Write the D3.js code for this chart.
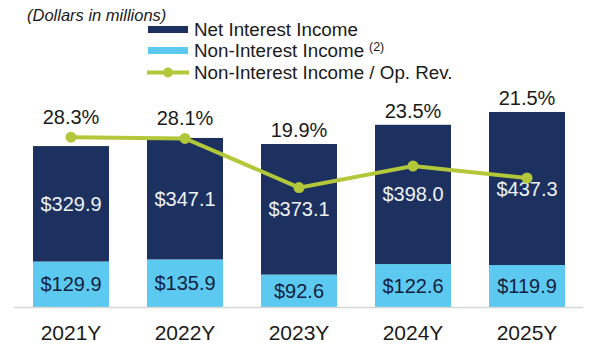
<!DOCTYPE html>
<html>
<head>
<meta charset="utf-8">
<script src="https://cdn.jsdelivr.net/npm/d3@7"></script>
<style>
  html, body { margin: 0; padding: 0; background: #ffffff; }
  svg { display: block; font-family: "Liberation Sans", Arial, sans-serif; }
</style>
</head>
<body>
<svg id="chart" width="589" height="354"></svg>
<script>
// Yearly revenue mix (dollars in millions) and non-interest share of operating revenue
const years = ["2021Y", "2022Y", "2023Y", "2024Y", "2025Y"];
const netInterestIncome = [329.9, 347.1, 373.1, 398.0, 437.3];
const nonInterestIncome = [129.9, 135.9, 92.6, 122.6, 119.9];
const nonInterestShare = [28.3, 28.1, 19.9, 23.5, 21.5];

const colors = { nii: "#1d3160", noni: "#5ccaf0", ratio: "#b3c73a", axis: "#d6d6d6", text: "#1a1a1a" };

const svg = d3.select("#chart");
const baseline = 307;

const x = d3.scaleBand()
  .domain(years)
  .range([14, 584])
  .paddingInner(1 / 3)
  .paddingOuter(1 / 6);

const y = d3.scaleLinear().domain([0, 860]).range([baseline, 6]);
const yPct = d3.scaleLinear().domain([0, 50]).range([baseline, 7]);

const rows = years.map((yr, i) => ({
  year: yr,
  noni: nonInterestIncome[i],
  nii: netInterestIncome[i],
  pct: nonInterestShare[i]
}));

// Stacked bars: non-interest income at the bottom, net interest income on top
const stack = d3.stack().keys(["noni", "nii"]);
const layers = stack(rows);

const gBars = svg.append("g");
layers.forEach(layer => {
  const key = layer.key;
  gBars.selectAll(null)
    .data(layer)
    .join("rect")
    .attr("x", d => x(d.data.year))
    .attr("width", x.bandwidth())
    .attr("y", d => y(d[1]))
    .attr("height", d => y(d[0]) - y(d[1]))
    .attr("fill", colors[key]);

  gBars.selectAll(null)
    .data(layer)
    .join("text")
    .attr("x", d => x(d.data.year) + x.bandwidth() / 2)
    .attr("y", d => (y(d[0]) + y(d[1])) / 2 + 7)
    .attr("text-anchor", "middle")
    .attr("font-size", 20)
    .attr("fill", key === "nii" ? "#eef1f6" : "#14213d")
    .text(d => "$" + d.data[key].toFixed(1));
});

// Baseline axis with year labels
const xAxis = d3.axisBottom(x).tickSize(0).tickPadding(0);
const gAxis = svg.append("g").attr("transform", `translate(0,${baseline})`).call(xAxis);
gAxis.select(".domain").attr("d", "M14,0.5H583").attr("stroke", colors.axis).attr("stroke-width", 1.5);
gAxis.selectAll(".tick text")
  .attr("y", 33)
  .attr("dy", 0)
  .attr("font-size", 21)
  .attr("font-family", "Liberation Sans, Arial, sans-serif")
  .attr("fill", colors.text);

// Ratio line with markers
const cx = d => x(d.year) + x.bandwidth() / 2;
const line = d3.line().x(cx).y(d => yPct(d.pct));
svg.append("path")
  .datum(rows)
  .attr("d", line)
  .attr("fill", "none")
  .attr("stroke", colors.ratio)
  .attr("stroke-width", 4);
svg.selectAll(".dot")
  .data(rows)
  .join("circle")
  .attr("cx", cx)
  .attr("cy", d => yPct(d.pct))
  .attr("r", 5.5)
  .attr("fill", colors.ratio);

// Percentage labels sit above whichever is higher: the bar top or the marker
svg.selectAll(".pct")
  .data(rows)
  .join("text")
  .attr("x", cx)
  .attr("y", d => {
    const top = y(d.noni + d.nii);
    const py = yPct(d.pct);
    return py <= top + 1 ? py - 13 : top - 7;
  })
  .attr("text-anchor", "middle")
  .attr("font-size", 20)
  .attr("fill", colors.text)
  .text(d => d.pct.toFixed(1) + "%");

// Unit note
svg.append("text")
  .attr("x", 27).attr("y", 21)
  .attr("font-size", 16.5)
  .attr("font-style", "italic")
  .attr("fill", colors.text)
  .text("(Dollars in millions)");

// Legend
const legend = svg.append("g");
const legendItems = [
  { label: "Net Interest Income", type: "rect", color: colors.nii, cy: 29.5 },
  { label: "Non-Interest Income", type: "rect", color: colors.noni, cy: 50.5 },
  { label: "Non-Interest Income / Op. Rev.", type: "line", color: colors.ratio, cy: 72.5 }
];
legendItems.forEach(item => {
  if (item.type === "rect") {
    legend.append("rect")
      .attr("x", 148).attr("y", item.cy - 3.5)
      .attr("width", 40).attr("height", 7)
      .attr("fill", item.color);
  } else {
    legend.append("line")
      .attr("x1", 147).attr("x2", 189)
      .attr("y1", item.cy).attr("y2", item.cy)
      .attr("stroke", item.color).attr("stroke-width", 4);
    legend.append("circle")
      .attr("cx", 168).attr("cy", item.cy).attr("r", 5)
      .attr("fill", item.color);
  }
  legend.append("text")
    .attr("x", 194).attr("y", item.cy + 6.5)
    .attr("font-size", 18.8)
    .attr("fill", colors.text)
    .text(item.label);
});
legend.append("text")
  .attr("x", 369).attr("y", 51)
  .attr("font-size", 12.5)
  .attr("fill", colors.text)
  .text("(2)");
</script>
</body>
</html>
